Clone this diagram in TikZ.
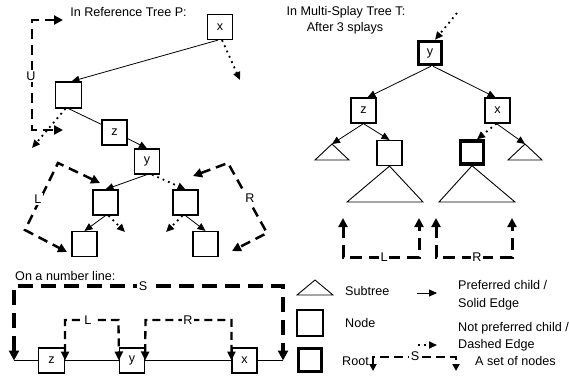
\documentclass[tikz,border=0pt]{standalone}
\usepackage{fontspec}
\setmainfont{Liberation Sans}
\usetikzlibrary{arrows.meta}
\begin{document}
\begin{tikzpicture}[x=1pt,y=-1pt,
  every node/.style={font=\fontsize{12.6}{17}\selectfont, inner sep=0pt},
  txt/.style={anchor=base west},
  ttl/.style={anchor=base},
  box/.style={draw, line width=1.2pt, minimum width=25pt, minimum height=25pt},
  rootbox/.style={draw, line width=3.4pt, minimum width=23pt, minimum height=23pt},
  tri/.style={draw, line width=0.9pt, line join=miter},
  pref/.style={line width=0.8pt, -{Triangle[length=8pt,width=7pt]}},
  plain/.style={line width=0.8pt},
  npref/.style={line width=1.8pt, dash pattern=on 1.8pt off 4pt, -{Triangle[length=8pt,width=7pt]}},
  brk/.style={line width=2.5pt, dash pattern=on 10pt off 6pt, {Triangle[length=9pt,width=9pt]}-{Triangle[length=9pt,width=9pt]}},
  brkT/.style={line width=3pt, dash pattern=on 12pt off 7pt, {Triangle[length=9pt,width=9pt]}-{Triangle[length=9pt,width=9pt]}},
  brkS/.style={line width=3.2pt, dash pattern=on 15pt off 8pt, {Triangle[length=10pt,width=10pt]}-{Triangle[length=10pt,width=10pt]}},
  brkN/.style={line width=2.3pt, dash pattern=on 8pt off 5pt, {Triangle[length=9pt,width=8pt]}-{Triangle[length=9pt,width=8pt]}},
  brkL/.style={line width=2.3pt, dash pattern=on 9pt off 5pt, {Triangle[length=7pt,width=7pt]}-{Triangle[length=7pt,width=7pt]}},
  lbl/.style={fill=white, inner sep=1.5pt}
]
\useasboundingbox (0,0) rectangle (569,376);

% ---------------- Reference tree P ----------------
\node[ttl] (tP) at (128.5,16.5) {In Reference Tree P:};
\node[box] (px) at (220,27) {x};
\node[box, minimum width=26pt, minimum height=26pt] (pa) at (68.5,95) {};
\node[box] (pz) at (114.5,132.5) {z};
\node[box] (py) at (147,161.5) {y};
\node[box] (plc) at (105.5,202.5) {};
\node[box] (prc) at (185.5,202.5) {};
\node[box] (pll) at (84.5,244) {};
\node[box] (prr) at (205.5,244) {};

\coordinate (pxd) at (240,80);
\coordinate (pad) at (32,148);
\coordinate (plcd) at (125,232);
\coordinate (prcd) at (166,232);

\draw[pref] ([xshift=-2pt]px.south) -- ([xshift=3pt]pa.north);
\draw[npref] ([xshift=2pt]px.south) -- (pxd);
\draw[plain] (pa.south) -- ([yshift=-5pt]pz.north west);
\draw[npref] ([xshift=-3pt]pa.south) -- (pad);
\draw[pref] ([yshift=-6pt]pz.east) -- (py.north);
\draw[pref] (py.south) -- (plc.north);
\draw[npref] ([xshift=5pt]py.south) -- (prc.north);
\draw[pref] (plc.south) -- (pll.north);
\draw[npref] ([xshift=3pt]plc.south) -- (plcd);
\draw[npref] ([xshift=-3pt]prc.south) -- (prcd);
\draw[pref] (prc.south) -- (prr.north);

\coordinate (uA) at (63,20);
\coordinate (uB) at (32,20);
\coordinate (uC) at (32,130);
\coordinate (uD) at (63,130);
\draw[brk] (uA) -- (uB) -- (uC) -- (uD);
\node[lbl] (uLab) at (31,76) {U};

\coordinate (lA) at (100,183);
\coordinate (lB) at (58,163);
\coordinate (lC) at (25,230);
\coordinate (lD) at (67,252);
\draw[brk] (lA) -- (lB) -- (lC) -- (lD);
\node[lbl] (lLab) at (38,199) {L};

\coordinate (rA) at (193,176);
\coordinate (rB) at (228,163);
\coordinate (rC) at (267,233);
\coordinate (rD) at (232,251);
\draw[brk] (rA) -- (rB) -- (rC) -- (rD);
\node[lbl] (rLab) at (250,198) {R};

% ---------------- Multi-splay tree T ----------------
\node[ttl] (tT1) at (346,15.5) {In Multi-Splay Tree T:};
\node[ttl] (tT2) at (345,31.5) {After 3 splays};
\node[rootbox] (ty) at (430,53) {y};
\node[box] (tz) at (363.5,110.5) {z};
\node[box] (tx) at (497.5,110.5) {x};
\node[box] (te) at (389.5,153) {};
\node[rootbox] (tr) at (472,152.5) {};

\coordinate (tla) at (332,144);
\coordinate (tra) at (525,144);
\draw[tri] (tla) -- (315,160) -- (349,160) -- cycle;
\draw[tri] (tra) -- (508,160) -- (542,160) -- cycle;
\draw[tri] (te.south) -- (347,202) -- (423,202) -- cycle;
\draw[tri] (tr.south) -- (439,202) -- (515,202) -- cycle;

\coordinate (tin) at (457,13);
\draw[npref] (tin) -- ([xshift=5pt]ty.north);
\draw[pref] ([xshift=1pt]ty.south) -- ([xshift=4pt]tz.north);
\draw[pref] ([xshift=3pt]ty.south) -- ([xshift=-2pt]tx.north);
\draw[pref] (tz.south) -- (tla);
\draw[pref] (tz.south) -- (te.north);
\draw[npref] ([xshift=-1pt]tx.south) -- ([xshift=5pt]tr.north);
\draw[pref] ([xshift=-1pt]tx.south) -- (tra);

\coordinate (bL1) at (343,218);
\coordinate (bL2) at (343,257);
\coordinate (bL3) at (419,257);
\coordinate (bL4) at (419,218);
\draw[brkT] (bL1) -- (bL2) -- (bL3) -- (bL4);
\node[lbl] (bLLab) at (384,257) {L};

\coordinate (bR1) at (436,218);
\coordinate (bR2) at (436,257);
\coordinate (bR3) at (512,257);
\coordinate (bR4) at (512,218);
\draw[brkT] (bR1) -- (bR2) -- (bR3) -- (bR4);
\node[lbl] (bRLab) at (477,257) {R};

% ---------------- Number line ----------------
\node[txt] (nlt) at (15,280.5) {On a number line:};
\coordinate (nl0) at (14,360.5);
\coordinate (nl1) at (283,360.5);
\node[box, minimum width=26pt] (nz) at (51.5,360.5) {z};
\node[box] (ny) at (132,360.5) {y};
\node[box] (nx) at (244.5,360.5) {x};
\draw[plain] (nl0) -- (nz) -- (ny) -- (nx) -- (nl1);

\coordinate (sA) at (14,286);
\coordinate (sB) at (283,286);
\draw[brkS] (nl0) -- (sA) -- (sB) -- (nl1);
\node[lbl] (sLab) at (143,286) {S};

\coordinate (nLa) at (65,320);
\coordinate (nLb) at (118.5,320);
\draw[brkN] (nz.east) -- (nLa) -- (nLb) -- (ny.west);
\node[lbl] (nLLab) at (88,320) {L};

\coordinate (nRa) at (145.5,320);
\coordinate (nRb) at (231.5,320);
\draw[brkN] (ny.east) -- (nRa) -- (nRb) -- (nx.west);
\node[lbl] (nRLab) at (188,320) {R};

% ---------------- Legend ----------------
\coordinate (lgt) at (315,280);
\draw[tri] (lgt) -- (297,295) -- (333,295) -- cycle;
\node[txt] (lgSub) at (345,295.5) {Subtree};

\coordinate (lp0) at (417,293);
\coordinate (lp1) at (437,293);
\draw[pref] (lp0) -- (lp1);
\node[txt] (lgP1) at (458,289.5) {Preferred child /};
\node[txt] (lgP2) at (458,307.5) {Solid Edge};

\node[box, minimum width=26pt, minimum height=26pt] (lgNode) at (310,323) {};
\node[txt] (lgNodeT) at (345,327.5) {Node};

\coordinate (ld0) at (418,345);
\coordinate (ld1) at (437,345);
\draw[npref] (ld0) -- (ld1);
\node[txt] (lgD1) at (458,331.5) {Not preferred child /};
\node[txt] (lgD2) at (458,348.5) {Dashed Edge};

\node[rootbox, minimum width=23pt, minimum height=23pt] (lgRoot) at (310,360) {};
\node[txt] (lgRootT) at (342,365.5) {Root};

\coordinate (ls0) at (373,371);
\coordinate (ls1) at (373,357);
\coordinate (ls2) at (456,357);
\coordinate (ls3) at (456,371);
\draw[brkL] (ls0) -- (ls1) -- (ls2) -- (ls3);
\node[lbl] (lsLab) at (415,356) {S};
\node[txt] (lgSet) at (475,365.5) {A set of nodes};
\end{tikzpicture}
\end{document}
